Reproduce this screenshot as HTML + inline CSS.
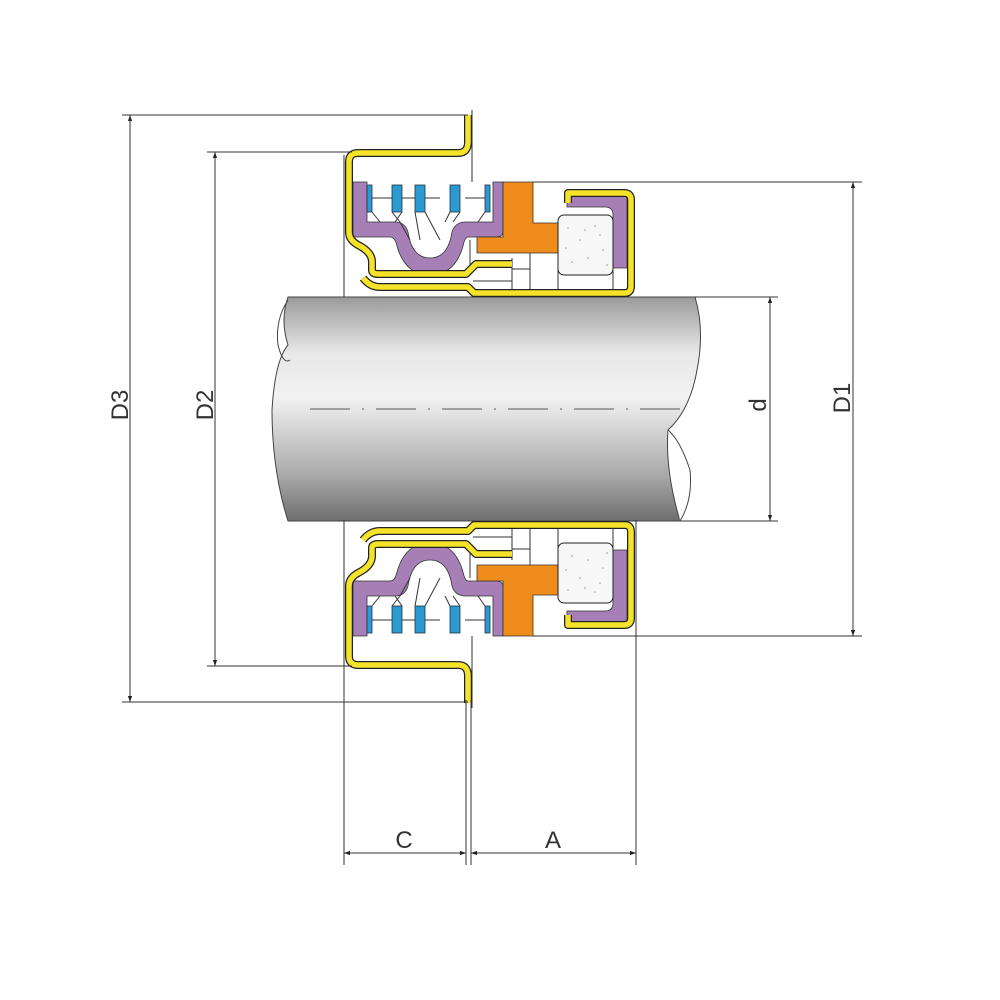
<!DOCTYPE html>
<html><head><meta charset="utf-8"><style>body{margin:0;background:#fff}svg{display:block}</style></head><body>
<svg width="1000" height="1000" viewBox="0 0 1000 1000" xmlns="http://www.w3.org/2000/svg" font-family="Liberation Sans, sans-serif">
<defs>
<linearGradient id="sh" x1="0" y1="0" x2="0" y2="1">
<stop offset="0" stop-color="#9a9a9a"/><stop offset="0.25" stop-color="#e8e8e8"/><stop offset="0.45" stop-color="#f2f2f2"/><stop offset="0.8" stop-color="#a8a8a8"/><stop offset="1" stop-color="#6e6e6e"/>
</linearGradient>
<marker id="ar" viewBox="0 0 10 10" refX="10" refY="5" markerWidth="10" markerHeight="6" orient="auto-start-reverse" markerUnits="userSpaceOnUse"><path d="M0,1.5 L10,5 L0,8.5 z" fill="#222"/></marker>
<g id="half">
 <!-- thin lines -->
 <line x1="344" y1="155" x2="344" y2="297" stroke="#333" stroke-width="1"/>
 <line x1="472" y1="110" x2="472" y2="182" stroke="#333" stroke-width="1"/>
 <line x1="470" y1="240" x2="470" y2="275" stroke="#333" stroke-width="1"/>
 <line x1="512" y1="258" x2="512" y2="293" stroke="#333" stroke-width="1"/>
 <line x1="530" y1="253" x2="530" y2="293" stroke="#333" stroke-width="1"/>
 <line x1="512" y1="269" x2="530" y2="269" stroke="#333" stroke-width="1"/>
 <line x1="473" y1="281" x2="512" y2="281" stroke="#333" stroke-width="1"/>
 <line x1="558" y1="253" x2="558" y2="293" stroke="#333" stroke-width="1"/>
 <line x1="613" y1="270" x2="613" y2="293" stroke="#333" stroke-width="1"/>
 <!-- purple bellows -->
 <path d="M353,182 H367 V222 H395 Q405,222 408,232 Q412,258 430,258 Q448,258 452,232 Q455,222 466,222 H493 V182 H503 V232 Q503,237 495,237 H468 Q465,237 463,246 Q455,275 430,275 Q405,275 397,246 Q395,237 390,237 H353 Z" fill="#a57fb5" stroke="#333" stroke-width="0.8"/>
 <!-- spring lines -->
 <g stroke="#333" stroke-width="1" fill="none">
  <line x1="370" y1="198" x2="440" y2="198"/><line x1="465" y1="198" x2="490" y2="198"/>
  <path d="M372,212 L380,222 M392,212 L400,222 L410,240 M402,212 L395,222 M415,212 L420,240 M425,212 L440,240 M450,212 L445,222 M460,212 L453,222 M485,212 L478,222"/>
 </g>
 <g fill="#2a9ad0" stroke="#234" stroke-width="0.8">
  <rect x="367" y="185" width="5" height="27"/><rect x="392" y="185" width="10" height="27"/><rect x="415" y="185" width="10" height="27"/><rect x="450" y="185" width="10" height="27"/><rect x="485" y="185" width="5" height="27"/>
 </g>
 <!-- orange -->
 <path d="M503,182 H533 V223 H558 V253 H477 V237 H503 Z" fill="#ee8c1c" stroke="#333" stroke-width="0.8"/>
 <!-- purple cup -->
 <path d="M567,193 H627 V268 H613 V215 Q613,207 605,207 H567 Z" fill="#a57fb5" stroke="#333" stroke-width="0.8"/>
 <!-- seat -->
 <rect x="558" y="215" width="55" height="60" rx="6" fill="#f7f7f7" stroke="#222" stroke-width="1"/>
 <g fill="#999"><circle cx="568" cy="228" r="0.8"/><circle cx="580" cy="240" r="0.8"/><circle cx="595" cy="226" r="0.8"/><circle cx="603" cy="250" r="0.8"/><circle cx="572" cy="262" r="0.8"/><circle cx="588" cy="258" r="0.8"/><circle cx="600" cy="235" r="0.8"/><circle cx="566" cy="248" r="0.8"/><circle cx="585" cy="230" r="0.8"/><circle cx="607" cy="265" r="0.8"/></g>
 <!-- yellow -->
 <g fill="none" stroke-linejoin="round" stroke-linecap="butt">
  <path id="y1" d="M468,115 V142 Q468,153 458,153 H358 Q349,153 349,162 V232 Q349,240 358,245 Q372,252 372,262 V270 Q372,274 378,274 H466 L476,264 H512" stroke="#222" stroke-width="8"/>
  <path d="M468,115 V142 Q468,153 458,153 H358 Q349,153 349,162 V232 Q349,240 358,245 Q372,252 372,262 V270 Q372,274 378,274 H466 L476,264 H512" stroke="#f5e32a" stroke-width="5.5"/>
  <path d="M363,278 Q370,287 380,287 H468 L474,293 H625 Q631,293 631,286 V200 Q631,193 624,193 H568 V203" stroke="#222" stroke-width="8"/>
  <path d="M363,278 Q370,287 380,287 H468 L474,293 H625 Q631,293 631,286 V200 Q631,193 624,193 H568 V203" stroke="#f5e32a" stroke-width="5.5"/>
 </g>
</g>
</defs>
<!-- shaft -->
<path d="M288,297 H695 Q705,330 697,370 Q690,410 668,430 Q665,470 680,521 H288 Q272,470 272,410 Q275,360 288,345 Q280,320 288,297 Z" fill="url(#sh)" stroke="#444" stroke-width="1"/>
<path d="M288,300 Q275,320 278,345 Q283,365 290,360" fill="none" stroke="#444" stroke-width="1"/>
<path d="M668,430 Q680,440 690,470 Q693,500 680,521" fill="#fff" stroke="#444" stroke-width="1"/>
<line x1="310" y1="409" x2="690" y2="409" stroke="#555" stroke-width="1" stroke-dasharray="40,12,2,12"/>
<use href="#half"/>
<use href="#half" transform="translate(0,818) scale(1,-1)"/>
<!-- dimension/extension lines -->
<g stroke="#333" stroke-width="1" fill="none">
 <line x1="122" y1="115" x2="468" y2="115"/><line x1="122" y1="702" x2="468" y2="702"/>
 <line x1="207" y1="152" x2="352" y2="152"/><line x1="207" y1="666" x2="352" y2="666"/>
 <line x1="533" y1="182" x2="862" y2="182"/><line x1="533" y1="636" x2="862" y2="636"/>
 <line x1="695" y1="297" x2="778" y2="297"/><line x1="680" y1="521" x2="778" y2="521"/>
 <line x1="344" y1="520" x2="344" y2="865"/><line x1="466" y1="700" x2="466" y2="865"/><line x1="471" y1="700" x2="471" y2="865"/><line x1="636" y1="520" x2="636" y2="865"/>
 <line x1="130" y1="115" x2="130" y2="702" marker-start="url(#ar)" marker-end="url(#ar)"/>
 <line x1="215" y1="152" x2="215" y2="666" marker-start="url(#ar)" marker-end="url(#ar)"/>
 <line x1="770" y1="297" x2="770" y2="521" marker-start="url(#ar)" marker-end="url(#ar)"/>
 <line x1="853" y1="182" x2="853" y2="636" marker-start="url(#ar)" marker-end="url(#ar)"/>
 <line x1="344" y1="853" x2="466" y2="853" marker-start="url(#ar)" marker-end="url(#ar)"/>
 <line x1="471" y1="853" x2="636" y2="853" marker-start="url(#ar)" marker-end="url(#ar)"/>
</g>
<g fill="#333" font-size="24">
 <text transform="translate(130,405) rotate(-90)" text-anchor="middle" dy="-2">D3</text>
 <text transform="translate(215,405) rotate(-90)" text-anchor="middle" dy="-2">D2</text>
 <text transform="translate(766,405) rotate(-90)" text-anchor="middle">d</text>
 <text transform="translate(850,398) rotate(-90)" text-anchor="middle">D1</text>
 <text x="404" y="848" text-anchor="middle">C</text>
 <text x="553" y="848" text-anchor="middle">A</text>
</g>
</svg>
</body></html>
